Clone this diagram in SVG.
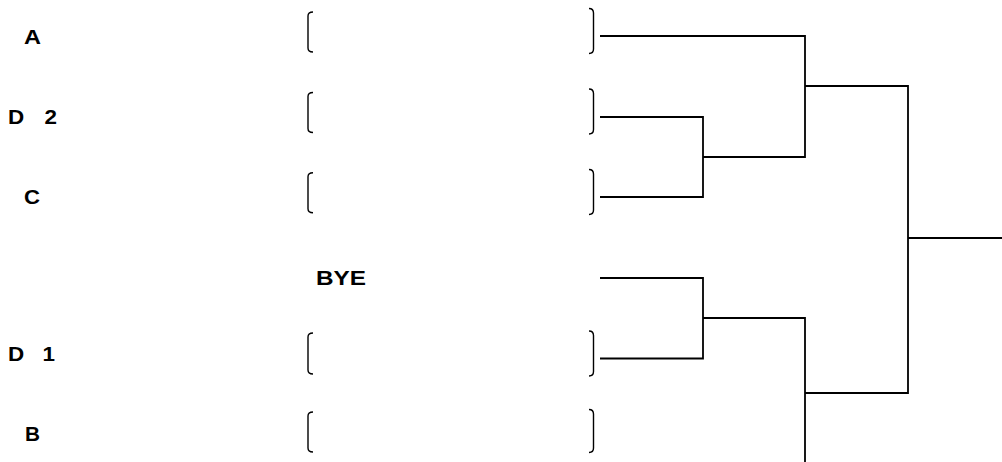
<svg xmlns="http://www.w3.org/2000/svg" width="1002" height="462" viewBox="0 0 1002 462">
<style>
.lbl{font-family:"Liberation Sans",Arial,sans-serif;font-weight:bold;font-size:19.5px;fill:#000}
.br{fill:none;stroke:#000;stroke-width:1.4}
.ln{fill:none;stroke:#000;stroke-width:1.8}
</style>
<rect width="1002" height="462" fill="#fff"/>
<g id="entry-A">
<text class="lbl" x="24" y="44" textLength="17" lengthAdjust="spacingAndGlyphs">A</text>
<path class="br" d="M313,12 Q308,12 308,16 V48 Q308,52 313,52"/>
<path class="br" d="M589,8.5 Q593.5,8.5 593.5,13 V49 Q593.5,53.5 589,53.5"/>
</g>
<g id="entry-D2">
<text class="lbl" transform="translate(8,124) scale(1.15,1)" x="0" y="0" textLength="42.6" lengthAdjust="spacing">D 2</text>
<path class="br" d="M313,92.5 Q308,92.5 308,96.5 V128.5 Q308,132.5 313,132.5"/>
<path class="br" d="M589,89 Q593.5,89 593.5,93.5 V129.5 Q593.5,134 589,134"/>
</g>
<g id="entry-C">
<text class="lbl" x="24" y="204" textLength="16" lengthAdjust="spacingAndGlyphs">C</text>
<path class="br" d="M313,172.7 Q308,172.7 308,176.7 V208.7 Q308,212.7 313,212.7"/>
<path class="br" d="M589,169.5 Q593.5,169.5 593.5,174 V210 Q593.5,214.5 589,214.5"/>
</g>
<g id="entry-BYE">
<text class="lbl" x="316" y="285" textLength="50" lengthAdjust="spacingAndGlyphs">BYE</text>
</g>
<g id="entry-D1">
<text class="lbl" transform="translate(8,361) scale(1.15,1)" x="0" y="0" textLength="40.9" lengthAdjust="spacing">D 1</text>
<path class="br" d="M313,333 Q308,333 308,337 V370 Q308,374 313,374"/>
<path class="br" d="M589,331 Q593.5,331 593.5,335.5 V371.5 Q593.5,376 589,376"/>
</g>
<g id="entry-B">
<text class="lbl" x="25" y="441" textLength="15" lengthAdjust="spacingAndGlyphs">B</text>
<path class="br" d="M313,412 Q308,412 308,416 V448 Q308,452 313,452"/>
<path class="br" d="M589,409.5 Q593.5,409.5 593.5,414 V448 Q593.5,452.5 589,452.5"/>
</g>
<g id="connectors">
<path class="ln" d="M600,36 H805 V157 H703"/>
<path class="ln" d="M600,117 H703 V197 H600"/>
<path class="ln" d="M805,86 H908 V393 H805"/>
<path class="ln" d="M908,238 H1002"/>
<path class="ln" d="M600,278 H703 V358.5 H600"/>
<path class="ln" d="M703,318 H805 V462"/>
</g>
</svg>
